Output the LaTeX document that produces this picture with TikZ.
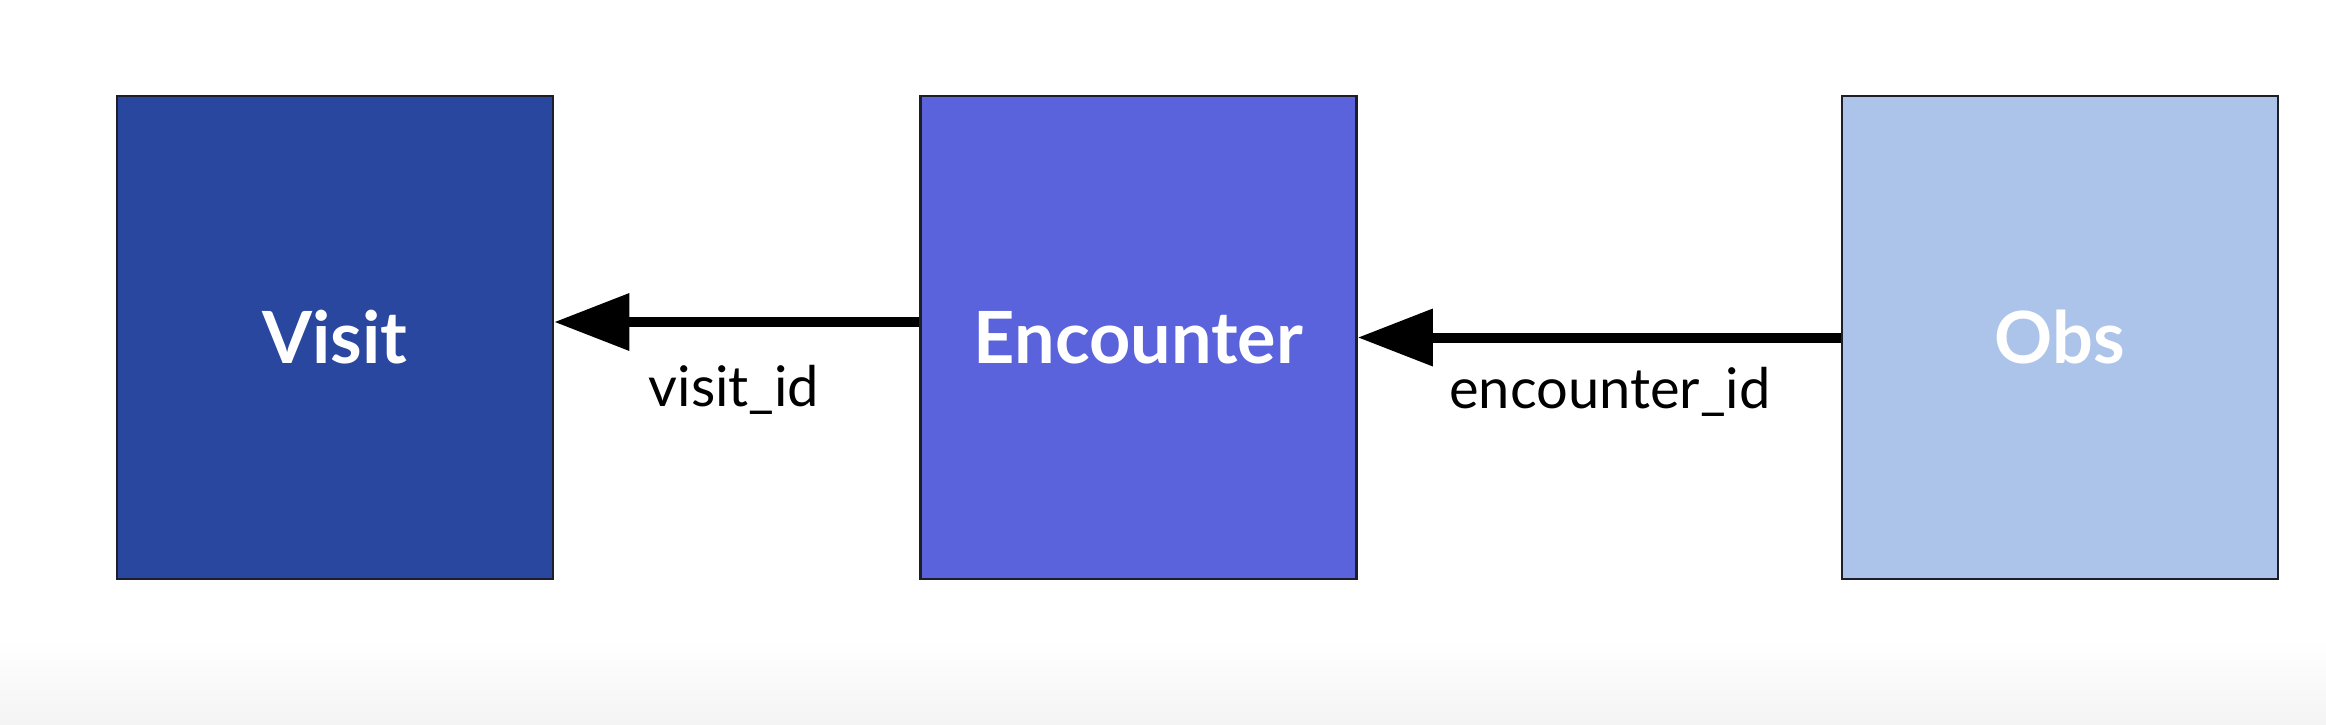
\documentclass[tikz,border=0pt]{standalone}
\usepackage{fontspec}
\setmainfont{Lato}
\usetikzlibrary{arrows.meta}
\definecolor{visitc}{RGB}{42,71,160}
\definecolor{encc}{RGB}{91,99,220}
\definecolor{obsc}{RGB}{173,196,234}
\definecolor{edgec}{RGB}{30,30,40}
\definecolor{bottomc}{RGB}{244,244,244}
\tikzset{
  entity/.style={draw=edgec, line width=2.5pt, minimum width=436pt, minimum height=483pt,
    inner sep=0pt, text=white, font=\fontsize{72}{76}\selectfont\bfseries},
  fk/.style={line width=10pt, -{Triangle[length=75pt,width=55pt]}},
  fklabel/.style={inner sep=0pt, text=black, font=\fontsize{56}{60}\selectfont}
}
\begin{document}
\begin{tikzpicture}[x=1pt,y=-1pt]
\useasboundingbox (0,0) rectangle (2326,724);
\fill[white] (0,0) rectangle (2326,724);
\shade[top color=white, bottom color=bottomc] (0,640) rectangle (2326,724);
\node[entity, fill=visitc] (visit) at (335,337.5) {Visit};
\node[entity, fill=encc] (enc) at (1138.5,337.5) {Encounter};
\node[entity, fill=obsc] (obs) at (2060,337.5) {Obs};
\draw[fk] ([yshift=15.5pt]enc.west) -- ([yshift=15.5pt]visit.east);
\draw[fk] (obs.west) -- (enc.east);
\node[fklabel] (l1) at (734,390) {visit\_id};
\node[fklabel] (l2) at (1610,392) {encounter\_id};
\end{tikzpicture}
\end{document}
